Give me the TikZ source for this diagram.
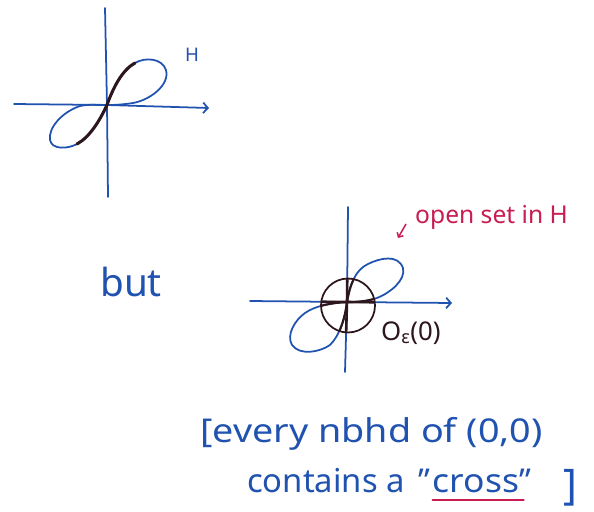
\documentclass[tikz,border=0pt]{standalone}
\usepackage{fontspec}
\setmainfont{Noto Sans}
\usetikzlibrary{arrows.meta}
\definecolor{penblue}{RGB}{32,82,176}
\definecolor{penred}{RGB}{200,28,82}
\definecolor{penink}{RGB}{45,22,28}
\begin{document}
\begin{tikzpicture}[x=0.03cm,y=-0.03cm,
  axis/.style={penblue, line width=1.5pt, line cap=round},
  axarrow/.style={axis, -{Straight Barb[length=4pt,width=9pt,line width=1.5pt]}},
  lobe/.style={penblue, line width=1.5pt, line join=round},
  ink/.style={penink, line width=2.6pt, line cap=round},
  inkthin/.style={penink, line width=1.8pt},
  hand/.style={text=penblue, inner sep=0pt, anchor=base west},
]
\useasboundingbox (0,0) rectangle (594,512);
\fill[white] (0,0) rectangle (594,512);

% ---------- top diagram ----------
\coordinate (o1) at (107,105);
\coordinate (yt1) at (105,8);
\coordinate (yb1) at (108,197);
\coordinate (xl1) at (14,104);
\coordinate (xr1) at (209,108);
\draw[axis] (yt1) -- (o1) -- (yb1);
\draw[axarrow] (xl1) -- (o1) -- (xr1);
% upper lobe
\draw[lobe] (o1) .. controls (113,88) and (122,70) .. (135,63)
  .. controls (145,57) and (162,58) .. (166,70)
  .. controls (170,85) and (150,100) .. (133,103)
  .. controls (120,105) and (112,105) .. (o1);
% lower lobe
\draw[lobe] (o1) .. controls (100,120) and (90,137) .. (77,144)
  .. controls (68,149) and (52,150) .. (50,140)
  .. controls (48,128) and (62,112) .. (80,106)
  .. controls (90,104) and (100,105) .. (o1);
% black s-curve
\draw[ink] (135,63) .. controls (122,70) and (113,88) .. (o1)
  .. controls (100,120) and (90,137) .. (77,144);
\node[hand, font=\fontsize{16}{18}\selectfont] (H1) at (185,62) {H};

% ---------- but ----------
\node[hand, font=\fontsize{33}{36}\selectfont] (but) at (100,296) {but};

% ---------- lower diagram ----------
\coordinate (o2) at (347,302);
\coordinate (yt2) at (348,207);
\coordinate (yb2) at (345,372);
\coordinate (xl2) at (250,301);
\coordinate (xr2) at (452,303);
\draw[axis] (yt2) -- (o2) -- (yb2);
\draw[axarrow] (xl2) -- (o2) -- (xr2);
\def\upperlobe{(o2) .. controls (350,285) and (355,270) .. (368,264)
  .. controls (380,258) and (398,254) .. (403,268)
  .. controls (406,280) and (390,293) .. (377,298)
  .. controls (365,302) and (355,302) .. (o2)}
\def\lowerlobe{(o2) .. controls (345,318) and (340,335) .. (330,345)
  .. controls (320,352) and (300,356) .. (292,345)
  .. controls (286,335) and (295,320) .. (305,313)
  .. controls (315,306) and (330,303) .. (o2)}
\draw[lobe] \upperlobe;
\draw[lobe] \lowerlobe;
\begin{scope}
  \clip (348,305.5) circle (27);
  \draw[inkthin, line width=2.2pt] (yt2) -- (o2) -- (yb2);
  \draw[inkthin, line width=2.2pt] (xl2) -- (o2) -- (xr2);
  \draw[inkthin] \upperlobe;
  \draw[inkthin] \lowerlobe;
\end{scope}
\node[draw=penink, line width=1.5pt, circle, minimum size=1.62cm, inner sep=0pt] (ball) at (348,305.5) {};

\node[hand, text=penink, font=\fontsize{22}{24}\selectfont] (oeps) at (381,340) {O\textsubscript{ε}(0)};

\node[hand, text=penred, font=\fontsize{21}{23}\selectfont] (open) at (415,223) {open set in H};
\coordinate (arrs) at (406,224);
\coordinate (arre) at (398,238);
\draw[penred, line width=1.3pt, -{Straight Barb[length=3pt,width=6pt]}] (arrs) -- (arre);

% ---------- bottom text ----------
\node[hand, font=\fontsize{28}{30}\selectfont] (line1) at (200,442) {\scalebox{1.15}[1]{[every nbhd of (0,0)}};
\node[hand, font=\fontsize{28}{30}\selectfont] (line2) at (247,492) {contains a};
\node[hand, font=\fontsize{28}{30}\selectfont] (q1) at ([xshift=11pt]line2.base east) {"};
\node[hand, font=\fontsize{28}{30}\selectfont\bfseries] (cross) at ([xshift=2pt]q1.base east) {\scalebox{1.08}[1]{cross}};
\node[hand, font=\fontsize{28}{30}\selectfont] (q2) at (cross.base east) {"};
\draw[penred, line width=1.3pt, line cap=round] ([yshift=-7pt]cross.base west) -- ([yshift=-7pt,xshift=4pt]cross.base east);
\node[hand, font=\fontsize{36}{40}\selectfont] (rbr) at (563,499) {]};
\end{tikzpicture}
\end{document}
